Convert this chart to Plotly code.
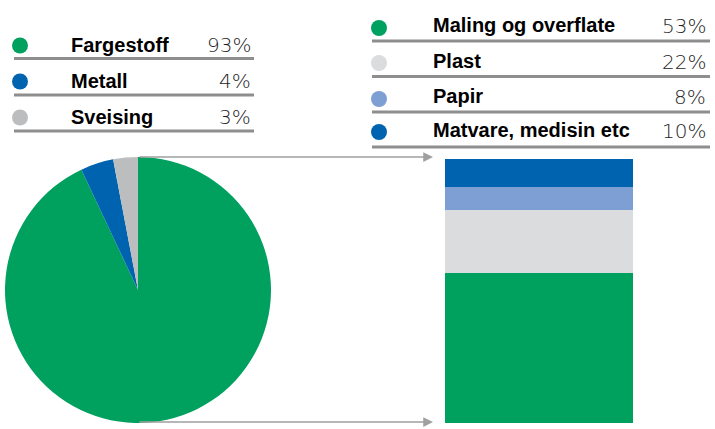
import plotly.graph_objects as go

# ---- data ----
pie_labels = ["Fargestoff", "Metall", "Sveising"]
pie_values = [93, 4, 3]
pie_colors = ["#00A05E", "#0063AF", "#BCBDBF"]

bar_labels = ["Maling og overflate", "Plast", "Papir", "Matvare, medisin etc"]
bar_values = [53, 22, 8, 10]
bar_colors = ["#00A05E", "#DBDCDD", "#7E9FD3", "#0063AF"]

W, H = 715, 429
def px(x): return x / W
def py(y): return 1 - y / H

fig = go.Figure()

# pie
fig.add_trace(go.Pie(
    labels=pie_labels, values=pie_values, sort=False, direction="clockwise",
    rotation=0, textinfo="none", hoverinfo="label+percent",
    marker=dict(colors=pie_colors, line=dict(width=0)),
    domain=dict(x=[px(5), px(271)], y=[py(423), py(157)]),
    showlegend=False,
))

# stacked bar
for lab, val, col in zip(bar_labels, bar_values, bar_colors):
    fig.add_trace(go.Bar(x=[0], y=[val], name=lab, marker=dict(color=col, line=dict(width=0)),
                         width=1, xaxis="x", yaxis="y", showlegend=False))

# pixel-coordinate axes for legend tables
fig.add_trace(go.Scatter(x=[20, 20, 20], y=[45.5, 81.5, 117.5], mode="markers",
                         marker=dict(size=16, color=pie_colors), xaxis="x2", yaxis="y2",
                         showlegend=False, hoverinfo="skip"))
fig.add_trace(go.Scatter(x=[379, 379, 379, 379], y=[28, 63, 99, 132], mode="markers",
                         marker=dict(size=16, color=bar_colors), xaxis="x2", yaxis="y2",
                         showlegend=False, hoverinfo="skip"))

shapes = []
anns = []
lab_font = dict(family="Liberation Sans, Arial", size=20, color="#000000", weight="bold")
pct_font = dict(family="DejaVu Sans", size=20, color="#1E1E1E", weight=300)

left_rows = [45, 81, 117]
left_lines = [58.5, 95, 131]
for lab, val, y, ly in zip(pie_labels, pie_values, left_rows, left_lines):
    anns.append(dict(x=69, y=y, xref="x2", yref="y2", text="<b>%s</b>" % lab, showarrow=False,
                     xanchor="left", yanchor="middle", font=lab_font))
    anns.append(dict(x=253, y=y, xref="x2", yref="y2", text="%d%%" % val, showarrow=False,
                     xanchor="right", yanchor="middle", font=pct_font))
    shapes.append(dict(type="line", xref="x2", yref="y2", x0=14, x1=254, y0=ly, y1=ly,
                       line=dict(color="#8E8E8E", width=3)))

right_rows = [26, 61.5, 97, 131]
right_lines = [41, 76.5, 112, 147]
for lab, val, y, ly in zip(bar_labels, bar_values, right_rows, right_lines):
    anns.append(dict(x=431, y=y - 1, xref="x2", yref="y2", text="<b>%s</b>" % lab, showarrow=False,
                     xanchor="left", yanchor="middle", font=lab_font))
    anns.append(dict(x=708, y=y, xref="x2", yref="y2", text="%d%%" % val, showarrow=False,
                     xanchor="right", yanchor="middle", font=pct_font))
    shapes.append(dict(type="line", xref="x2", yref="y2", x0=372, x1=710, y0=ly, y1=ly,
                       line=dict(color="#8E8E8E", width=3)))

# connector arrows
for yy in [157, 422]:
    anns.append(dict(x=433, y=yy, ax=138, ay=yy, xref="x2", yref="y2", axref="x2", ayref="y2",
                     text="", showarrow=True, arrowhead=2, arrowsize=1.3, arrowwidth=1.5,
                     arrowcolor="#A0A0A0"))

fig.update_layout(
    width=W, height=H, margin=dict(l=0, r=0, t=0, b=0),
    paper_bgcolor="white", plot_bgcolor="rgba(0,0,0,0)",
    barmode="stack", bargap=0,
    xaxis=dict(domain=[px(445), px(633)], range=[-0.5, 0.5], visible=False, fixedrange=True, anchor="y"),
    yaxis=dict(domain=[py(423), py(159)], range=[0, sum(bar_values)], visible=False, fixedrange=True, anchor="x"),
    xaxis2=dict(domain=[0, 1], range=[0, W], visible=False, anchor="y2", fixedrange=True),
    yaxis2=dict(domain=[0, 1], range=[H, 0], visible=False, anchor="x2", fixedrange=True),
    shapes=shapes, annotations=anns,
)

fig.write_html("out.html", config={"displayModeBar": False},
               post_script="document.body.style.margin='0';")
